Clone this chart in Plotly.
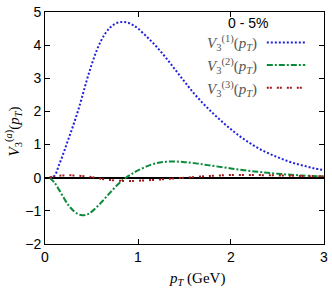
import plotly.graph_objects as go

pt1 = [0.05, 0.1, 0.15, 0.2, 0.25, 0.3, 0.35, 0.4, 0.45, 0.5, 0.55, 0.6, 0.65, 0.7, 0.75, 0.8, 0.85,
       0.9, 0.95, 1.0, 1.1, 1.2, 1.3, 1.4, 1.5, 1.6, 1.7, 1.8, 1.9, 2.0, 2.1, 2.2, 2.3, 2.4, 2.5,
       2.6, 2.7, 2.8, 2.9, 3.0]
v1 = [0.0, 0.05, 0.38, 0.75, 1.15, 1.55, 1.97, 2.45, 2.95, 3.4, 3.8, 4.12, 4.36, 4.53, 4.64, 4.69, 4.70,
      4.67, 4.6, 4.5, 4.24, 3.95, 3.62, 3.26, 2.9, 2.55, 2.24, 1.96, 1.7, 1.46, 1.24, 1.05, 0.88, 0.74, 0.62,
      0.51, 0.42, 0.35, 0.28, 0.23]

pt2 = [0.05, 0.1, 0.15, 0.2, 0.25, 0.3, 0.35, 0.4, 0.45, 0.5, 0.6, 0.7, 0.8, 0.87, 0.95, 1.0, 1.1, 1.2,
       1.3, 1.4, 1.5, 1.6, 1.75, 2.0, 2.25, 2.5, 2.75, 3.0]
v2 = [0.0, -0.14, -0.36, -0.6, -0.82, -0.98, -1.09, -1.13, -1.11, -1.03, -0.76, -0.45, -0.16, 0.0, 0.14,
      0.22, 0.35, 0.44, 0.48, 0.49, 0.47, 0.44, 0.38, 0.28, 0.19, 0.12, 0.07, 0.04]

pt3 = [0.05, 0.1, 0.2, 0.3, 0.4, 0.5, 0.55, 0.6, 0.7, 0.8, 0.9, 1.0, 1.1, 1.2, 1.3, 1.4, 1.5, 1.75, 2.0,
       2.25, 2.5, 2.75, 3.0]
v3 = [0.0, 0.04, 0.07, 0.07, 0.05, 0.02, 0.0, -0.03, -0.07, -0.09, -0.1, -0.09, -0.08, -0.06, -0.04,
      -0.02, 0.0, 0.05, 0.08, 0.08, 0.07, 0.05, 0.04]

labels = ["<i>V</i><sub>3</sub><sup>(1)</sup>(<i>p<sub>T</sub></i>)",
          "<i>V</i><sub>3</sub><sup>(2)</sup>(<i>p<sub>T</sub></i>)",
          "<i>V</i><sub>3</sub><sup>(3)</sup>(<i>p<sub>T</sub></i>)"]
colors = ["#1f1fe0", "#0a8a3a", "#a01818"]
dashes = ["2px,2px", "6px,2px,2px,2px", "2px,1px,2px,5px"]

fig = go.Figure()
for x, y, c, d, n in zip([pt1, pt2, pt3], [v1, v2, v3], colors, dashes, labels):
    fig.add_trace(go.Scatter(x=x, y=y, mode="lines", name=n, line=dict(color=c, width=2, dash=d, shape="spline"),
                             showlegend=False))

W, H = 332, 290
l, r, t, b = 45, 4, 8, 46
pw, ph = W - l - r, H - t - b

def px(xp):
    return (xp - l) / pw

def py(yp):
    return 1 - (yp - t) / ph

ann = [dict(text="0 - 5%", x=px(251), y=py(19), xref="paper", yref="paper", showarrow=False,
            xanchor="center", yanchor="middle",
            font=dict(family="Liberation Sans, Arial", size=14, color="black"))]
shapes = []
ys = [40, 63, 86]
for i in range(3):
    ann.append(dict(text=labels[i], x=px(262), y=py(ys[i]), xref="paper", yref="paper", xanchor="right",
                    yanchor="middle", showarrow=False,
                    font=dict(family="Liberation Serif, Times New Roman", size=15, color="#555")))
    shapes.append(dict(type="line", xref="paper", yref="paper", x0=px(270), x1=px(309), y0=py(ys[i] - 1),
                       y1=py(ys[i] - 1), line=dict(color=colors[i], width=2, dash=dashes[i])))
ann.append(dict(text="<i>p<sub>T</sub></i> (GeV)", x=px(199), y=py(280), xref="paper", yref="paper",
                xanchor="center", yanchor="middle", showarrow=False,
                font=dict(family="Liberation Serif, Times New Roman", size=15, color="black")))
ann.append(dict(text="<i>V</i><sub>3</sub><sup>(<i>a</i>)</sup>(<i>p<sub>T</sub></i>)", x=px(13), y=py(129),
                xref="paper", yref="paper", xanchor="center", yanchor="middle", showarrow=False, textangle=-90,
                font=dict(family="Liberation Serif, Times New Roman", size=15, color="black")))

axis_common = dict(showgrid=False, ticks="inside", ticklen=5, tickcolor="black", showline=True,
                   linecolor="black", linewidth=1, mirror="ticks", ticklabeloverflow="allow",
                   tickfont=dict(family="Liberation Sans, Arial", size=14, color="black"))

fig.update_layout(
    width=W, height=H, margin=dict(l=l, r=r, t=t, b=b),
    plot_bgcolor="white", paper_bgcolor="white",
    xaxis=dict(range=[0, 3.0001], tickvals=[0, 1, 2, 3], zeroline=False, **axis_common),
    yaxis=dict(range=[-2.0001, 5.0001], tickvals=[-2, -1, 0, 1, 2, 3, 4, 5], zeroline=True, zerolinecolor="black",
               zerolinewidth=1.5, **axis_common),
    annotations=ann, shapes=shapes,
)
fig.write_html("out.html", config={"displayModeBar": False},
               post_script="document.body.style.margin='0';document.body.style.overflow='hidden';")
